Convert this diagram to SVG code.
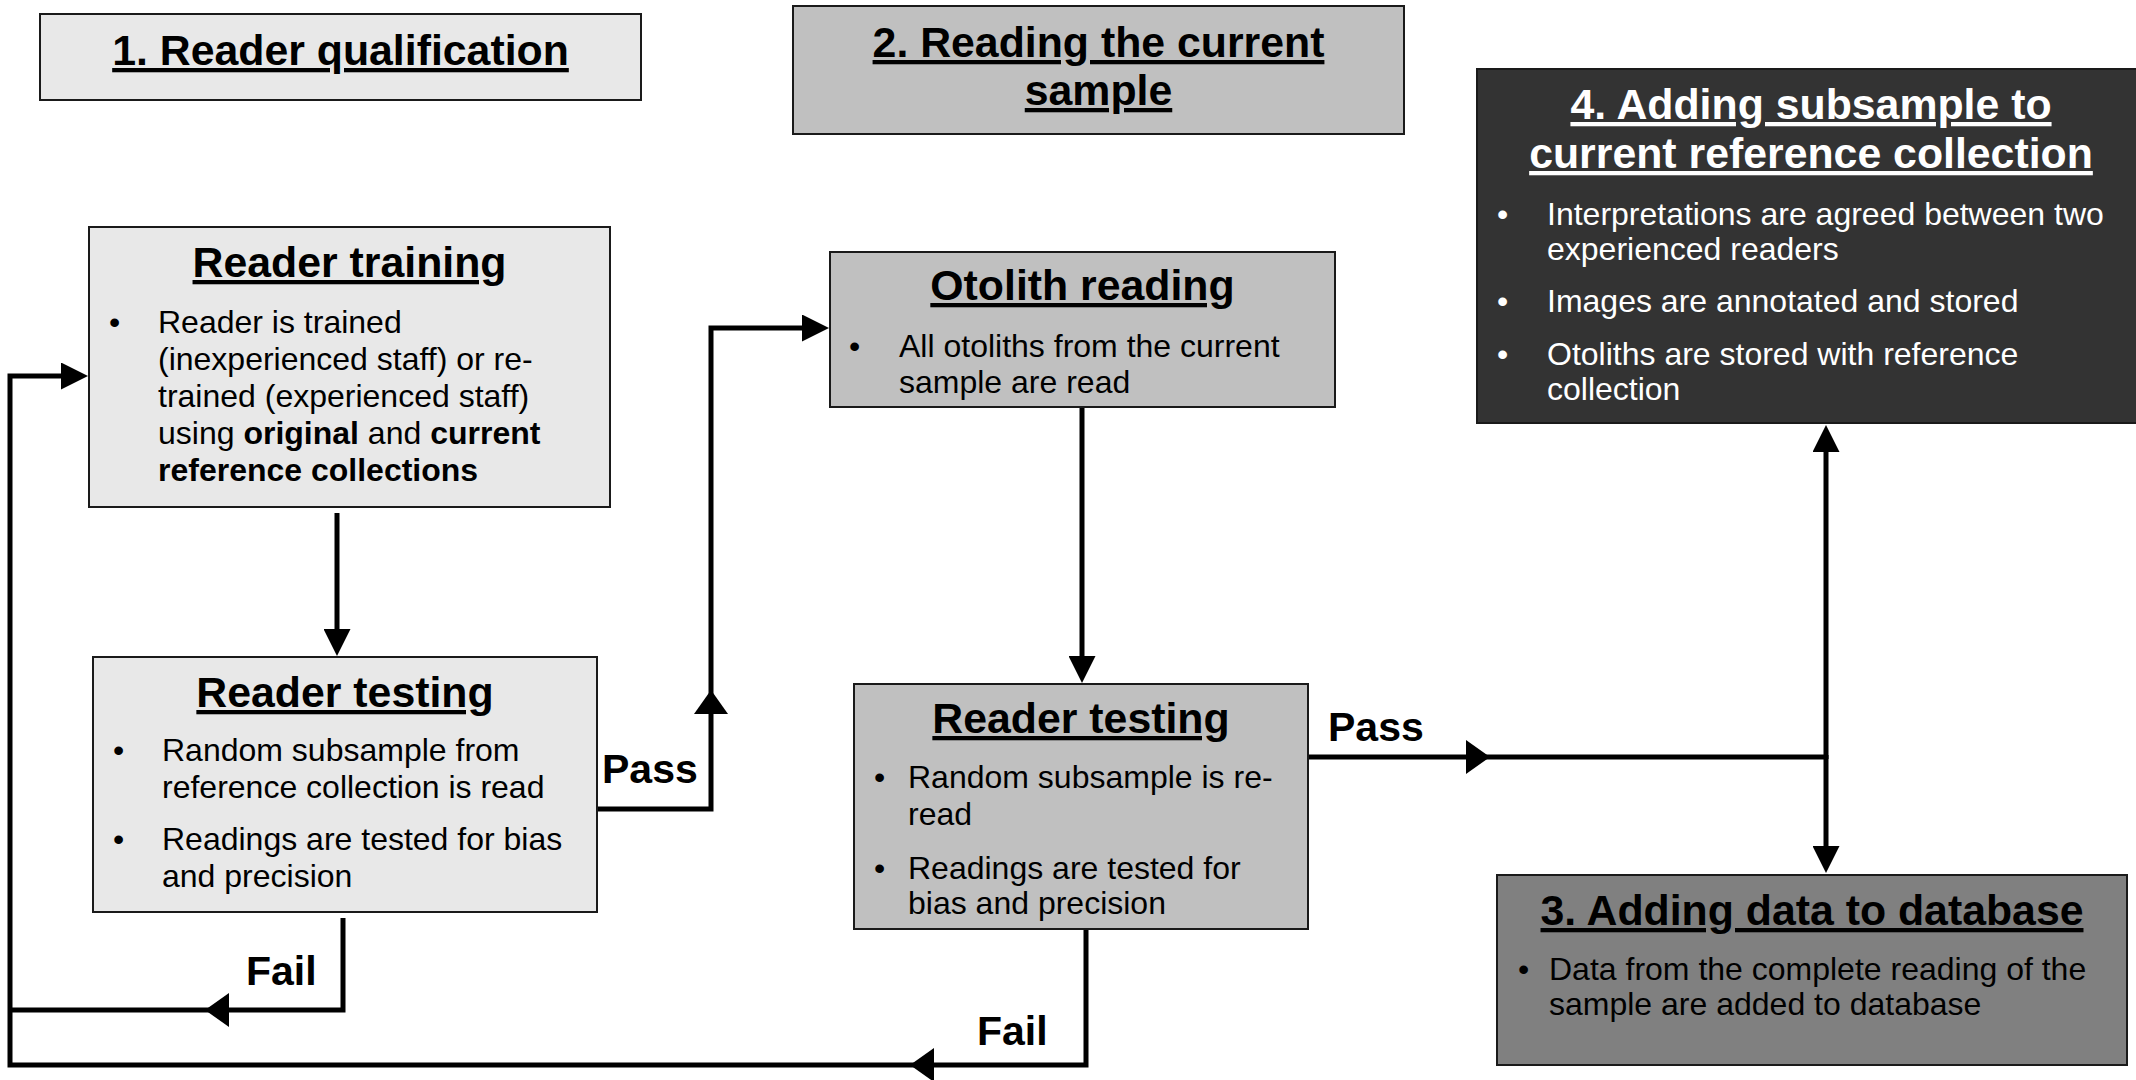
<svg xmlns="http://www.w3.org/2000/svg" width="2136" height="1080" viewBox="0 0 2136 1080">
<style>
  .bx { stroke:#1a1a1a; stroke-width:2; }
  .l1 { fill:#e8e8e8; }
  .l2 { fill:#c0c0c0; }
  .l3 { fill:#808080; }
  .l4 { fill:#333333; }
  text { font-family:"Liberation Sans", Arial, sans-serif; fill:#000; }
  .title { font-size:42.8px; font-weight:bold; text-anchor:middle; text-decoration:underline; }
  .body { font-size:32px; }
  .b { font-weight:bold; }
  .lbl { font-size:41px; font-weight:bold; }
  .wt { fill:#ffffff; }
  .cn { fill:none; stroke:#000; stroke-width:5; stroke-linejoin:miter; }
</style>
<defs>
  <marker id="arrow" markerUnits="userSpaceOnUse" markerWidth="27" markerHeight="27" refX="20" refY="13.5" orient="auto">
    <path d="M0,0 L27,13.5 L0,27 Z" fill="#000"/>
  </marker>
  <marker id="arrowMid" markerUnits="userSpaceOnUse" markerWidth="24" markerHeight="34" refX="17" refY="17" orient="auto">
    <path d="M0,0 L24,17 L0,34 Z" fill="#000"/>
  </marker>
</defs>
<rect width="2136" height="1080" fill="#ffffff"/>

<g id="connectors">
  <path class="cn" d="M337,513 V649" marker-end="url(#arrow)"/>
  <path class="cn" d="M597,809 H711 V697" marker-end="url(#arrowMid)"/>
  <path class="cn" d="M711,700 V328 H822" marker-end="url(#arrow)"/>
  <path class="cn" d="M1082,407 V676" marker-end="url(#arrow)"/>
  <path class="cn" d="M343,918 V1010 H212" marker-end="url(#arrowMid)"/>
  <path class="cn" d="M215,1010 H10"/>
  <path class="cn" d="M1086,929 V1065 H917" marker-end="url(#arrowMid)"/>
  <path class="cn" d="M920,1065 H10 V376 H81" marker-end="url(#arrow)"/>
  <path class="cn" d="M1308,757 H1483" marker-end="url(#arrowMid)"/>
  <path class="cn" d="M1480,757 H1826"/>
  <path class="cn" d="M1826,759 V432" marker-end="url(#arrow)"/>
  <path class="cn" d="M1826,755 V866" marker-end="url(#arrow)"/>
  <text class="lbl" x="602" y="783">Pass</text>
  <text class="lbl" x="1328" y="741">Pass</text>
  <text class="lbl" x="246" y="985">Fail</text>
  <text class="lbl" x="977" y="1045">Fail</text>
</g>

<g id="stage1">
  <rect class="bx l1" x="40" y="14" width="601" height="86"/>
  <text class="title" x="340.5" y="65">1. Reader qualification</text>
</g>

<g id="stage2">
  <rect class="bx l2" x="793" y="6" width="611" height="128"/>
  <text class="title" x="1098.5" y="57">2. Reading the current</text>
  <text class="title" x="1098.5" y="105">sample</text>
</g>

<g id="stage4">
  <rect class="bx l4" x="1477" y="69" width="670" height="354"/>
  <text class="title wt" x="1811" y="119">4. Adding subsample to</text>
  <text class="title wt" x="1811" y="168">current reference collection</text>
  <text class="body wt" x="1497" y="225">•</text>
  <text class="body wt" x="1547" y="225">Interpretations are agreed between two</text>
  <text class="body wt" x="1547" y="260">experienced readers</text>
  <text class="body wt" x="1497" y="312">•</text>
  <text class="body wt" x="1547" y="312">Images are annotated and stored</text>
  <text class="body wt" x="1497" y="365">•</text>
  <text class="body wt" x="1547" y="365">Otoliths are stored with reference</text>
  <text class="body wt" x="1547" y="400">collection</text>
</g>

<g id="reader-training">
  <rect class="bx l1" x="89" y="227" width="521" height="280"/>
  <text class="title" x="349.5" y="277">Reader training</text>
  <text class="body" x="109" y="333">•</text>
  <text class="body" x="158" y="333">Reader is trained</text>
  <text class="body" x="158" y="370">(inexperienced staff) or re-</text>
  <text class="body" x="158" y="407">trained (experienced staff)</text>
  <text class="body" x="158" y="444">using <tspan class="b">original</tspan> and <tspan class="b">current</tspan></text>
  <text class="body b" x="158" y="481">reference collections</text>
</g>

<g id="reader-testing-1">
  <rect class="bx l1" x="93" y="657" width="504" height="255"/>
  <text class="title" x="345" y="707">Reader testing</text>
  <text class="body" x="113" y="761">•</text>
  <text class="body" x="162" y="761">Random subsample from</text>
  <text class="body" x="162" y="798">reference collection is read</text>
  <text class="body" x="113" y="850">•</text>
  <text class="body" x="162" y="850">Readings are tested for bias</text>
  <text class="body" x="162" y="887">and precision</text>
</g>

<g id="otolith-reading">
  <rect class="bx l2" x="830" y="252" width="505" height="155"/>
  <text class="title" x="1082.5" y="300">Otolith reading</text>
  <text class="body" x="849" y="357">•</text>
  <text class="body" x="899" y="357">All otoliths from the current</text>
  <text class="body" x="899" y="393">sample are read</text>
</g>

<g id="reader-testing-2">
  <rect class="bx l2" x="854" y="684" width="454" height="245"/>
  <text class="title" x="1081" y="733">Reader testing</text>
  <text class="body" x="874" y="788">•</text>
  <text class="body" x="908" y="788">Random subsample is re-</text>
  <text class="body" x="908" y="825">read</text>
  <text class="body" x="874" y="879">•</text>
  <text class="body" x="908" y="879">Readings are tested for</text>
  <text class="body" x="908" y="914">bias and precision</text>
</g>

<g id="stage3">
  <rect class="bx l3" x="1497" y="875" width="630" height="190"/>
  <text class="title" x="1812" y="925">3. Adding data to database</text>
  <text class="body" x="1518" y="980">•</text>
  <text class="body" x="1549" y="980">Data from the complete reading of the</text>
  <text class="body" x="1549" y="1015">sample are added to database</text>
</g>
</svg>
